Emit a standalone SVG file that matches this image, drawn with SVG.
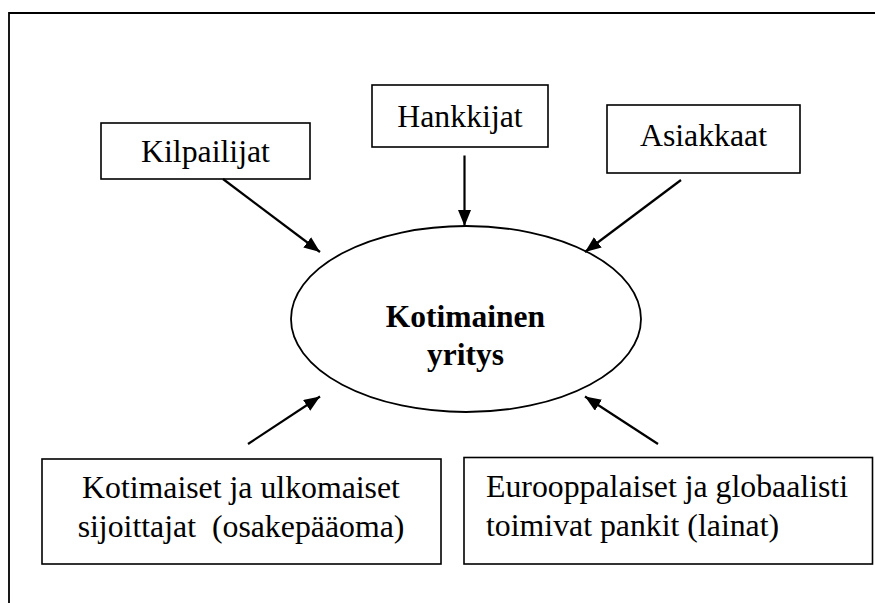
<svg xmlns="http://www.w3.org/2000/svg" width="875" height="603" viewBox="0 0 875 603">
<style>
.box{fill:#fff;stroke:#000;stroke-width:1.6}
.t{font-family:Liberation Serif,serif;font-size:31.8px;fill:#000}
.c{text-anchor:middle}
.b{font-weight:bold;font-size:31.5px}
.edge{stroke:#000;stroke-width:2.2;fill:none;marker-end:url(#ah)}
</style>
<defs>
<marker id="ah" markerUnits="userSpaceOnUse" markerWidth="17" markerHeight="14" refX="16" refY="6.5" orient="auto">
<path d="M0,0 L16,6.5 L0,13 z" fill="#000"/>
</marker>
</defs>
<rect width="875" height="603" fill="#fff"/>
<g id="frame">
<path d="M9,603 V13 H875" fill="none" stroke="#000" stroke-width="1.8"/>
</g>
<g id="center">
<ellipse cx="466" cy="319" rx="175" ry="93" fill="#fff" stroke="#000" stroke-width="1.8"/>
<text class="t c b" font-family="Liberation Serif" x="465.5" y="327">Kotimainen</text>
<text class="t c b" font-family="Liberation Serif" x="465.5" y="365">yritys</text>
</g>
<g id="kilpailijat">
<rect class="box" x="101" y="123" width="209" height="56"/>
<text class="t c" font-family="Liberation Serif" x="205.5" y="162">Kilpailijat</text>
</g>
<g id="hankkijat">
<rect class="box" x="372" y="85" width="176" height="62"/>
<text class="t c" font-family="Liberation Serif" x="460" y="127">Hankkijat</text>
</g>
<g id="asiakkaat">
<rect class="box" x="607" y="105" width="193" height="68"/>
<text class="t c" font-family="Liberation Serif" x="703.5" y="146">Asiakkaat</text>
</g>
<g id="sijoittajat">
<rect class="box" x="42" y="459" width="399" height="105"/>
<text class="t c" font-family="Liberation Serif" x="241" y="498">Kotimaiset ja ulkomaiset</text>
<text class="t c" font-family="Liberation Serif" x="241" y="536.5" xml:space="preserve">sijoittajat  (osakepääoma)</text>
</g>
<g id="pankit">
<rect class="box" x="464" y="457.5" width="408.5" height="106.5"/>
<text class="t" font-family="Liberation Serif" x="486" y="497">Eurooppalaiset ja globaalisti</text>
<text class="t" font-family="Liberation Serif" x="486" y="536">toimivat pankit (lainat)</text>
</g>
<g id="connectors">
<line class="edge" x1="223" y1="179" x2="320" y2="252"/>
<line class="edge" x1="464.5" y1="155.5" x2="464.5" y2="226"/>
<line class="edge" x1="681" y1="180" x2="585" y2="252"/>
<line class="edge" x1="248" y1="444" x2="320" y2="396.5"/>
<line class="edge" x1="658" y1="444" x2="585" y2="396.5"/>
</g>
</svg>
